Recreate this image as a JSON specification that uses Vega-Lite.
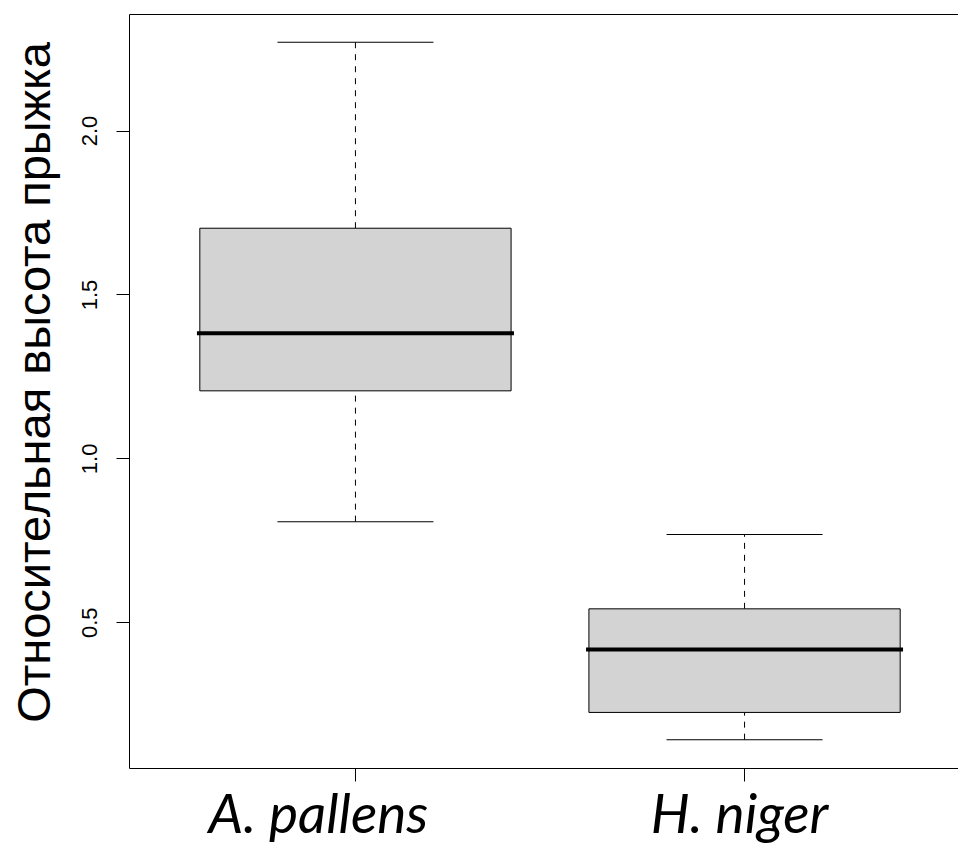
{
  "$schema": "https://vega.github.io/schema/vega-lite/v6.json",
  "autosize": {"type": "none"},
  "padding": {"left": 129, "top": 14, "right": 0, "bottom": 78},
  "width": 842,
  "height": 754,
  "background": "white",
  "config": {
    "view": {"stroke": "black", "strokeWidth": 1},
    "axis": {"domain": false, "grid": false, "tickColor": "black", "tickSize": 13, "tickWidth": 1, "labelColor": "black", "titleColor": "black", "labelLimit": 0}
  },
  "data": {
    "values": [
      {"species": "A. pallens", "lower": 0.807, "q1": 1.206, "median": 1.382, "q3": 1.702, "upper": 2.269},
      {"species": "H. niger", "lower": 0.142, "q1": 0.225, "median": 0.417, "q3": 0.541, "upper": 0.768}
    ]
  },
  "encoding": {
    "x": {
      "field": "species", "type": "nominal", "sort": null,
      "scale": {"type": "band", "paddingInner": 0.2, "paddingOuter": 0.182},
      "axis": {
        "title": null, "labelAngle": 0, "labelFont": "Lato", "labelFontStyle": "italic",
        "labelFontSize": 55, "labelBaseline": "alphabetic", "labelPadding": 51, "labelAlign": "center",
        "labelLimit": 0,
        "labelOffset": {"condition": {"test": "datum.value === 'A. pallens'", "value": -37}, "value": -5}
      }
    }
  },
  "layer": [
    {
      "mark": {"type": "rule", "strokeDash": [6, 6], "color": "black", "strokeWidth": 1},
      "encoding": {
        "y": {"field": "q3", "type": "quantitative",
          "scale": {"domain": [0.0555, 2.3555], "nice": false, "zero": false},
          "axis": {
            "values": [0.5, 1.0, 1.5, 2.0], "format": ".1f",
            "labelAngle": -90, "labelFont": "Liberation Sans", "labelFontSize": 22,
            "labelAlign": "center", "labelBaseline": "alphabetic", "labelPadding": 20,
            "title": "Относительная высота прыжка", "titleFont": "Liberation Sans",
            "titleFontSize": 47, "titleFontWeight": "normal", "titleAngle": -90,
            "titleAlign": "center", "titleBaseline": "alphabetic", "titleX": -80, "titleY": 368
          }
        },
        "y2": {"field": "upper"}
      }
    },
    {
      "mark": {"type": "rule", "strokeDash": [6, 6], "color": "black", "strokeWidth": 1},
      "encoding": {
        "y": {"field": "lower", "type": "quantitative"},
        "y2": {"field": "q1"}
      }
    },
    {
      "mark": {"type": "tick", "color": "black", "size": 156, "thickness": 1, "opacity": 1},
      "encoding": {"y": {"field": "upper", "type": "quantitative"}}
    },
    {
      "mark": {"type": "tick", "color": "black", "size": 156, "thickness": 1, "opacity": 1},
      "encoding": {"y": {"field": "lower", "type": "quantitative"}}
    },
    {
      "mark": {"type": "bar", "fill": "#D3D3D3", "stroke": "black", "strokeWidth": 1},
      "encoding": {
        "y": {"field": "q1", "type": "quantitative"},
        "y2": {"field": "q3"}
      }
    },
    {
      "mark": {"type": "tick", "color": "black", "size": 317, "thickness": 4, "opacity": 1},
      "encoding": {"y": {"field": "median", "type": "quantitative"}}
    }
  ]
}
